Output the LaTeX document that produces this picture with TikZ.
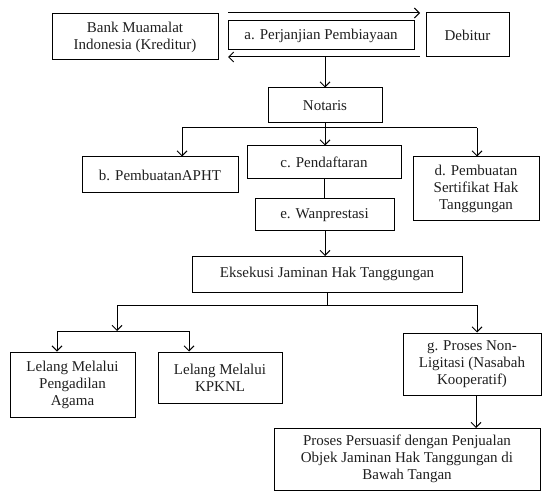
\documentclass[tikz,border=0pt]{standalone}
\usepackage{fontspec}
\setmainfont{Liberation Serif}
\usetikzlibrary{arrows.meta}
\newcommand\boxfont{\fontsize{15}{17}\selectfont}
\tikzset{
  box/.style={draw, line width=1pt, align=center, inner sep=0pt, font=\boxfont, text=black!88},
  arr/.style={line width=1pt, -{Straight Barb[length=5pt,width=10pt,line width=1pt]}},
  ln/.style={line width=1pt}
}
\begin{document}
\begin{tikzpicture}[x=1pt,y=-1pt]
\useasboundingbox (0,0) rectangle (544,492);
% top row
\node[box, minimum width=166pt, minimum height=46pt] (bank) at (135,37) {Bank Muamalat\\Indonesia (Kreditur)};
\node[box, minimum width=186pt, minimum height=29pt] (perj) at (321,35.5) {a. Perjanjian Pembiayaan};
\node[box, minimum width=83pt, minimum height=44pt] (deb) at (467.5,35) {Debitur};
\coordinate (t1) at (228,13);
\coordinate (t2) at (420,13);
\coordinate (u1) at (420,57);
\coordinate (u2) at (228,57);
\coordinate (u3) at (325,57);
\draw[arr] (t1) -- (t2);
\draw[arr] (u1) -- (u2);
% notaris
\node[box, minimum width=114pt, minimum height=35pt] (not) at (325,105.5) {Notaris};
\draw[arr] (u3) -- (not.north);
% second row
\node[box, minimum width=156pt, minimum height=36pt] (b) at (160,175) {b. PembuatanAPHT};
\node[box, minimum width=154pt, minimum height=33pt] (c) at (324,162.5) {c. Pendaftaran};
\node[box, minimum width=126pt, minimum height=64pt] (d) at (476,189) {d. Pembuatan\\Sertifikat Hak\\Tanggungan};
\coordinate (bl) at (182,128);
\coordinate (br) at (477,128);
\draw[ln] (bl) -- (br);
\draw[arr] (bl) -- (bl |- b.north);
\draw[arr] (br) -- (br |- d.north);
\draw[arr] (not.south) -- (not.south |- c.north);
% e
\node[box, minimum width=139pt, minimum height=32pt] (e) at (324.5,215) {e. Wanprestasi};
\draw[ln] (c.south) -- (c.south |- e.north);
\node[box, minimum width=270pt, minimum height=36pt] (eks) at (327,274) {Eksekusi Jaminan Hak Tanggungan};
\draw[arr] (325,231) -- (325,256);
% bottom branches
\coordinate (s1) at (327,305);
\coordinate (s1l) at (117,305);
\coordinate (s1r) at (477,305);
\coordinate (s2) at (117,331);
\coordinate (s2l) at (57,331);
\coordinate (s2r) at (189,331);
\draw[ln] (eks.south) -- (s1);
\draw[ln] (s1l) -- (s1r);
\draw[ln] (s2l) -- (s2r);
\node[box, minimum width=125pt, minimum height=65pt] (pa) at (72.5,384.5) {Lelang Melalui\\Pengadilan\\Agama};
\node[box, minimum width=124pt, minimum height=51pt] (kp) at (220,377.5) {Lelang Melalui\\KPKNL};
\node[box, minimum width=138pt, minimum height=62pt] (g) at (472,364) {g. Proses Non-\\Ligitasi (Nasabah\\Kooperatif)};
\node[box, minimum width=266pt, minimum height=62pt] (pr) at (407,459) {Proses Persuasif dengan Penjualan\\Objek Jaminan Hak Tanggungan di\\Bawah Tangan};
\draw[arr] (s1l) -- (s2);
\draw[arr] (s2l) -- (s2l |- pa.north);
\draw[arr] (s2r) -- (s2r |- kp.north);
\draw[arr] (s1r) -- (s1r |- g.north);
\draw[arr] (476,395) -- (476,428);
\end{tikzpicture}
\end{document}
